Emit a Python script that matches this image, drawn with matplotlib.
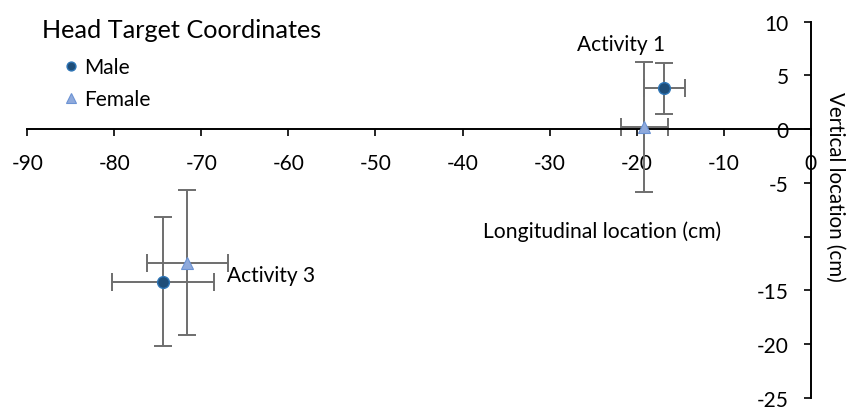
import numpy as np
import matplotlib.pyplot as plt

# Head target coordinates (cm), activity 1 and activity 3
atividades = ["Activity 1", "Activity 3"]

male_x = [-16.8, -74.4]
male_y = [3.8, -14.2]
male_xerr = [2.35, 5.9]
male_yerr = [2.4, 6.0]

female_x = [-19.1, -71.6]
female_y = [0.2, -12.4]
female_xerr = [2.7, 4.65]
female_yerr = [6.05, 6.75]

x_ticks = [-90, -80, -70, -60, -50, -40, -30, -20, -10, 0]
y_ticks = [10, 5, 0, -5, -10, -15, -20, -25]
y_tick_labels = ["10", "5", "0", "-5", "", "-15", "-20", "-25"]

plt.rcParams["font.family"] = ["Lato", "DejaVu Sans"]

fig = plt.figure(figsize=(8.48, 4.10), dpi=100)
ax = fig.add_axes([27.3 / 848, 1 - 399 / 410, (810.7 - 27.3) / 848, (399 - 22.7) / 410])

cor_erro = "#6e6e6e"
ax.errorbar(male_x, male_y, xerr=male_xerr, yerr=male_yerr, fmt="none",
            ecolor=cor_erro, elinewidth=1.4, capsize=6.5, capthick=1.4, zorder=2)
ax.errorbar(female_x, female_y, xerr=female_xerr, yerr=female_yerr, fmt="none",
            ecolor=cor_erro, elinewidth=1.4, capsize=6.5, capthick=1.4, zorder=2)

ax.plot(male_x, male_y, "o", color="#1F4E79", markeredgecolor="#2E75B6",
        markeredgewidth=1.0, markersize=8.5, linestyle="none", label="Male", zorder=3)
ax.plot(female_x, female_y, "^", color="#8FAADC", markeredgecolor="#6C93D4",
        markeredgewidth=0.8, markersize=9, linestyle="none", label="Female", zorder=3)

ax.set_xlim(-90, 0)
ax.set_ylim(-25, 10)

ax.spines["left"].set_position(("data", 0))
ax.spines["bottom"].set_position(("data", 0))
ax.spines["right"].set_visible(False)
ax.spines["top"].set_visible(False)
for s in ["left", "bottom"]:
    ax.spines[s].set_linewidth(1.4)
    ax.spines[s].set_color("black")

ax.set_xticks(x_ticks)
ax.set_xticklabels([str(v) for v in x_ticks])
ax.set_yticks(y_ticks)
ax.set_yticklabels(y_tick_labels)
ax.tick_params(axis="x", direction="out", length=5, width=1.2, pad=12, labelsize=15)
ax.tick_params(axis="y", direction="out", length=5, width=1.2, pad=11, labelsize=15)

ax.text(male_x[0] + 0.1, 7.9, atividades[0], fontsize=15, ha="right", va="center")
ax.text(-67.1, -13.6, atividades[1], fontsize=15, ha="left", va="center")

fig.text(42 / 848, 1 - 30 / 410, "Head Target Coordinates", fontsize=18.2, ha="left", va="center")
fig.text(602 / 848, 1 - 232 / 410, "Longitudinal location (cm)", fontsize=15.2, ha="center", va="center")
fig.text(835 / 848, 1 - 187 / 410, "Vertical location (cm)", fontsize=14.8, ha="center", va="center",
         rotation=270)

leg = fig.legend(loc="upper left", bbox_to_anchor=(58 / 848, 1 - 58 / 410), frameon=False,
                 fontsize=15, handletextpad=0.05, labelspacing=0.6, borderaxespad=0,
                 borderpad=0, handlelength=1.2, markerscale=0.75)

fig.savefig("out.png", dpi=100)
